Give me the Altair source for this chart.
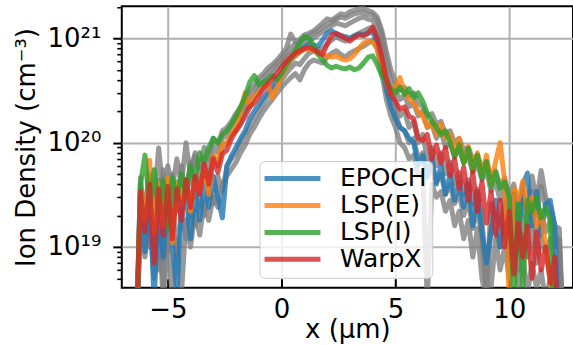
import altair as alt
import pandas as pd

# x positions (µm)
X = [-6.4, -6.2, -6.0, -5.8, -5.6, -5.4, -5.2, -5.0, -4.8, -4.6,
     -4.4, -4.2, -4.0, -3.8, -3.6, -3.4, -3.2, -3.0, -2.8, -2.6,
     -2.4, -2.2, -2.0, -1.8, -1.6, -1.4, -1.2, -1.0, -0.8, -0.6,
     -0.4, -0.2, 0.0, 0.2, 0.4, 0.6, 0.8, 1.0, 1.2, 1.4,
     1.6, 1.8, 2.0, 2.2, 2.4, 2.6, 2.8, 3.0, 3.2, 3.4,
     3.6, 3.8, 4.0, 4.2, 4.4, 4.6, 4.8, 5.0, 5.2, 5.4,
     5.6, 5.8, 6.0, 6.2, 6.4, 6.6, 6.8, 7.0, 7.2, 7.4,
     7.6, 7.8, 8.0, 8.2, 8.4, 8.6, 8.8, 9.0, 9.2, 9.4,
     9.6, 9.8, 10.0, 10.2, 10.4, 10.6, 10.8, 11.0, 11.2, 11.4,
     11.6, 11.8, 12.0, 12.2, 12.4]

# ion density, in units of 1e19 cm^-3
EPOCH = [0.1, 2.4, 0.9, 3.2, 0.3, 2.6, 0.8, 3.0, 1.1, 0.35,
         2.2, 3.2, 1.2, 3.6, 1.8, 4.0, 2.4, 4.8, 3.0, 1.9,
         6.0, 7.5, 9.0, 11, 13, 17, 20, 23, 27, 31,
         35, 40, 46, 54, 62, 68, 74, 82, 88, 86,
         84, 96, 112, 118, 110, 106, 104, 100, 106, 110,
         108, 112, 116, 90, 56, 32, 22, 17, 14, 13,
         11, 10, 6.0, 7.5, 4.8, 7.0, 4.0, 6.0, 3.2, 5.0,
         2.8, 4.2, 2.4, 4.0, 1.6, 3.4, 1.4, 0.7, 1.4, 2.8,
         1.0, 2.6, 0.8, 3.2, 1.2, 4.0, 5.1, 1.6, 3.4, 1.3,
         2.6, 2.8, 1.6, 0.1, 0.1]

LSP_E = [0.1, 3.4, 1.8, 6.8, 1.4, 4.0, 1.6, 4.6, 1.1, 4.0,
         2.6, 4.4, 2.2, 4.6, 3.4, 5.6, 3.2, 7.5, 6.5, 9.5,
         10, 12, 14, 20, 30, 22, 28, 30, 34, 36,
         27, 34, 44, 54, 62, 68, 74, 78, 80, 76,
         72, 70, 68, 66, 68, 64, 62, 64, 70, 80,
         90, 94, 92, 80, 56, 38, 30, 34, 42, 30,
         26, 24, 20, 18, 14, 16, 12, 15, 11, 12,
         8.0, 11, 6.4, 9.2, 5.4, 8.0, 4.8, 7.6, 4.0, 6.6,
         10, 4.2, 0.3, 3.6, 2.8, 4.3, 2.2, 3.0, 1.6, 2.2,
         1.0, 0.5, 0.1, 0.1, 0.1]

LSP_I = [0.1, 4.0, 7.6, 2.4, 5.5, 2.2, 4.4, 1.5, 4.6, 2.8,
         5.0, 3.2, 6.0, 4.4, 8.0, 6.5, 9.0, 11, 10, 12,
         13, 15, 18, 22, 28, 38, 44, 36, 38, 40,
         44, 40, 46, 56, 64, 76, 90, 104, 100, 86,
         70, 62, 55, 52, 54, 52, 51, 53, 50, 52,
         58, 66, 68, 56, 44, 38, 33, 30, 34, 29,
         33, 27, 30, 25, 19, 16, 14, 12, 13, 10,
         7.2, 9.6, 6.4, 8.8, 5.4, 7.6, 4.6, 6.6, 3.8, 5.2,
         3.6, 4.2, 3.0, 0.3, 2.6, 0.4, 2.8, 2.2, 3.0, 1.9,
         2.4, 1.8, 0.1, 0.1, 0.1]

WARPX = [0.1, 3.4, 1.4, 4.0, 0.7, 3.6, 1.3, 3.8, 1.2, 3.6,
         1.8, 4.4, 2.4, 4.8, 3.2, 6.2, 4.0, 7.0, 5.2, 7.8,
         8.5, 11, 13, 15, 18, 22, 24, 28, 33, 37,
         41, 46, 53, 60, 66, 72, 76, 80, 82, 78,
         74, 70, 88, 108, 112, 106, 100, 94, 102, 108,
         106, 112, 128, 100, 66, 40, 29, 25, 21, 22,
         18, 17, 11, 10.5, 12, 7.0, 9.5, 6.4, 9.0, 4.8,
         7.0, 3.6, 5.8, 2.8, 5.2, 2.2, 4.2, 1.7, 3.4, 1.3,
         2.8, 1.0, 2.2, 0.55, 1.7, 0.8, 1.6, 0.5, 1.4, 0.6,
         1.0, 0.45, 0.8, 0.1, 0.1]

# grey background runs
GRAY_A = [0.1, 3.8, 2.4, 5.0, 2.8, 8.9, 3.2, 6.0, 3.6, 7.0,
          4.0, 10, 4.8, 7.5, 5.8, 9.0, 7.0, 11, 9.5, 13,
          14, 16, 19, 22, 26, 32, 36, 42, 46, 52,
          56, 62, 70, 80, 110, 92, 98, 108, 112, 118,
          128, 140, 154, 150, 160, 172, 168, 180, 186, 192,
          194, 185, 178, 160, 120, 75, 50, 38, 32, 34,
          28, 30, 24, 22, 18, 19, 15, 16, 12, 13,
          10, 11, 8.5, 9.0, 7.0, 7.6, 5.8, 6.5, 4.6, 5.4,
          3.8, 4.6, 3.0, 4.0, 2.4, 3.4, 2.2, 4.8, 2.8, 5.4,
          3.0, 2.4, 1.6, 1.5, 0.1]

GRAY_B = [0.1, 1.6, 0.8, 2.0, 0.5, 1.8, 0.3, 1.4, 0.3, 1.2,
          0.35, 1.8, 1.0, 2.2, 1.3, 2.6, 1.8, 3.0, 2.4, 4.0,
          4.8, 5.6, 6.5, 8.0, 9.5, 12, 14, 17, 20, 23,
          26, 30, 34, 38, 42, 46, 40, 50, 58, 62,
          60, 58, 66, 72, 76, 70, 66, 72, 76, 80,
          84, 90, 96, 80, 46, 26, 18, 14, 10, 9.0,
          7.0, 7.6, 4.8, 5.2, 0.3, 4.0, 3.0, 3.4, 2.2, 2.8,
          1.6, 2.2, 1.2, 1.8, 0.8, 1.5, 0.5, 0.3, 0.4, 1.2,
          0.6, 1.0, 0.5, 0.9, 0.4, 0.8, 0.35, 0.7, 0.4, 0.6,
          0.3, 0.5, 0.3, 0.6, 0.1]

GRAY_C = [0.1, 2.6, 1.4, 3.6, 1.9, 4.4, 0.4, 3.4, 1.5, 4.2,
          2.6, 3.4, 6.5, 3.0, 4.2, 5.2, 4.4, 7.5, 6.0, 9.0,
          10, 12, 13, 16, 20, 24, 28, 33, 38, 42,
          46, 52, 58, 66, 72, 78, 84, 90, 96, 100,
          108, 116, 124, 132, 140, 136, 132, 140, 148, 156,
          160, 152, 150, 120, 76, 44, 30, 24, 18, 20,
          14, 16, 10, 12, 7.0, 9.0, 6.0, 8.0, 5.0, 6.5,
          4.0, 5.2, 3.2, 4.4, 2.6, 3.6, 2.0, 0.4, 2.6, 2.0,
          1.6, 2.8, 1.2, 2.2, 0.9, 2.0, 1.4, 2.6, 1.1, 2.0,
          1.4, 1.8, 1.0, 1.2, 0.1]

GRAY_D = [0.1, 4.6, 1.8, 4.0, 3.2, 2.0, 5.5, 2.4, 5.0, 2.2,
          6.0, 2.8, 5.4, 8.0, 4.6, 7.0, 5.6, 9.0, 8.0, 11,
          12, 14, 17, 19, 23, 28, 32, 37, 42, 47,
          52, 58, 64, 72, 82, 88, 94, 100, 106, 112,
          118, 128, 136, 144, 152, 160, 156, 164, 172, 176,
          178, 170, 168, 150, 110, 64, 40, 32, 26, 28,
          22, 24, 18, 20, 14, 15, 11, 13, 9.0, 10,
          7.5, 8.6, 6.4, 7.4, 5.2, 6.2, 4.4, 5.4, 3.4, 4.2,
          2.8, 3.6, 2.2, 3.2, 1.8, 2.8, 1.6, 3.4, 2.0, 3.8,
          2.4, 2.0, 1.4, 1.0, 0.1]

GRAY_E = [0.1, 2.0, 3.0, 1.0, 2.6, 0.6, 2.4, 0.9, 2.8, 0.8,
          2.4, 1.2, 2.8, 1.6, 3.4, 2.0, 3.8, 2.6, 4.8, 3.4,
          6.0, 7.0, 8.0, 10, 12, 14, 17, 20, 24, 28,
          32, 36, 40, 46, 52, 58, 56, 64, 72, 76,
          78, 80, 88, 96, 104, 98, 94, 100, 106, 112,
          118, 124, 128, 104, 64, 36, 24, 19, 14, 13,
          10, 11, 7.0, 8.0, 4.6, 6.0, 4.2, 5.0, 3.2, 4.0,
          2.6, 3.2, 2.0, 2.8, 1.5, 2.4, 1.2, 0.35, 1.6, 1.4,
          1.0, 1.8, 0.7, 1.4, 0.6, 1.3, 0.8, 1.6, 0.7, 1.2,
          0.9, 1.2, 0.7, 0.8, 0.1]

SERIES = ["EPOCH", "LSP(E)", "LSP(I)", "WarpX"]
COLORS = ["#1f77b4", "#ff7f0e", "#2ca02c", "#d62728"]
X_TICKS = [-5, 0, 5, 10]
Y_MAJOR = [1, 10, 100]
Y_MINOR = [0.5, 0.6, 0.7, 0.8, 0.9, 2, 3, 4, 5, 6, 7, 8, 9,
           20, 30, 40, 50, 60, 70, 80, 90, 200]

rows = []
for name, vals in zip(SERIES, [EPOCH, LSP_E, LSP_I, WARPX]):
    for xv, v in zip(X, vals):
        rows.append({"series": name, "x": xv, "n": v})
df = pd.DataFrame(rows)

grows = []
for name, vals in zip(["a", "b", "c", "d", "e"], [GRAY_A, GRAY_B, GRAY_C, GRAY_D, GRAY_E]):
    for xv, v in zip(X, vals):
        grows.append({"run": name, "x": xv, "n": v})
gdf = pd.DataFrame(grows)

FONT = "DejaVu Sans"
xscale = alt.Scale(domain=[-7.02, 12.8], nice=False, zero=False)
yscale = alt.Scale(type="log", domain=[0.406, 203], nice=False)

gray = alt.Chart(gdf).mark_line(
    color="#808080", opacity=0.8, strokeWidth=5, clip=True, strokeJoin="round"
).encode(
    x=alt.X("x:Q", scale=xscale, axis=alt.Axis(
        orient="bottom", values=X_TICKS, labels=False, domain=False, grid=False,
        tickSize=9, tickWidth=2, tickColor="black", offset=-9, title=None)),
    y=alt.Y("n:Q", scale=yscale, axis=alt.Axis(
        orient="left", values=Y_MINOR, labels=False, domain=False, grid=False,
        tickSize=5, tickWidth=1.6, tickColor="black", title=None)),
    detail="run:N",
)

lines = alt.Chart(df).mark_line(
    opacity=0.8, strokeWidth=5, clip=True, strokeJoin="round"
).encode(
    x=alt.X("x:Q", scale=xscale, axis=alt.Axis(
        orient="bottom", values=X_TICKS, ticks=False, tickSize=0, domain=False,
        grid=True, gridColor="#b0b0b0", gridWidth=2,
        labelFont=FONT, labelFontSize=26, labelColor="black", labelPadding=9,
        title="x (µm)", titleFont=FONT, titleFontSize=26, titleFontWeight="normal",
        titleColor="black", titleBaseline="alphabetic", titleY=50)),
    y=alt.Y("n:Q", scale=yscale, axis=alt.Axis(
        orient="left", values=Y_MAJOR, tickSize=9, tickWidth=2, tickColor="black",
        domain=False, grid=True, gridColor="#b0b0b0", gridWidth=2,
        labelExpr="datum.value > 50 ? '10²¹' : (datum.value > 5 ? '10²⁰' : '10¹⁹')",
        labelFont=FONT, labelFontSize=26, labelColor="black", labelPadding=12,
        title="Ion Density (cm⁻³)", titleFont=FONT, titleFontSize=26,
        titleFontWeight="normal", titleColor="black", titleAngle=270,
        titleAlign="center", titleBaseline="alphabetic", titleX=-87)),
    color=alt.Color("series:N", scale=alt.Scale(domain=SERIES, range=COLORS),
                    legend=alt.Legend(
                        title=None, orient="none", legendX=138, legendY=155,
                        labelFont=FONT, labelFontSize=25, labelColor="black",
                        symbolType="M-2.8,0H2.8", symbolSize=400, symbolStrokeWidth=5,
                        symbolOpacity=0.8, symbolOffset=15.5, labelOffset=35,
                        rowPadding=1, padding=5, labelLimit=0,
                        fillColor="rgba(255,255,255,0.8)", strokeColor="#cccccc",
                        cornerRadius=5)),
)

chart = alt.layer(gray, lines).resolve_axis(x="independent", y="independent").properties(
    width=452, height=282,
    autosize=alt.AutoSizeParams(type="none"),
    padding={"left": 122, "top": 6, "right": 0, "bottom": 57},
    background="white",
).configure_view(stroke="black", strokeWidth=2)

chart.save("out.html", embed_options={"renderer": "svg", "actions": False})
